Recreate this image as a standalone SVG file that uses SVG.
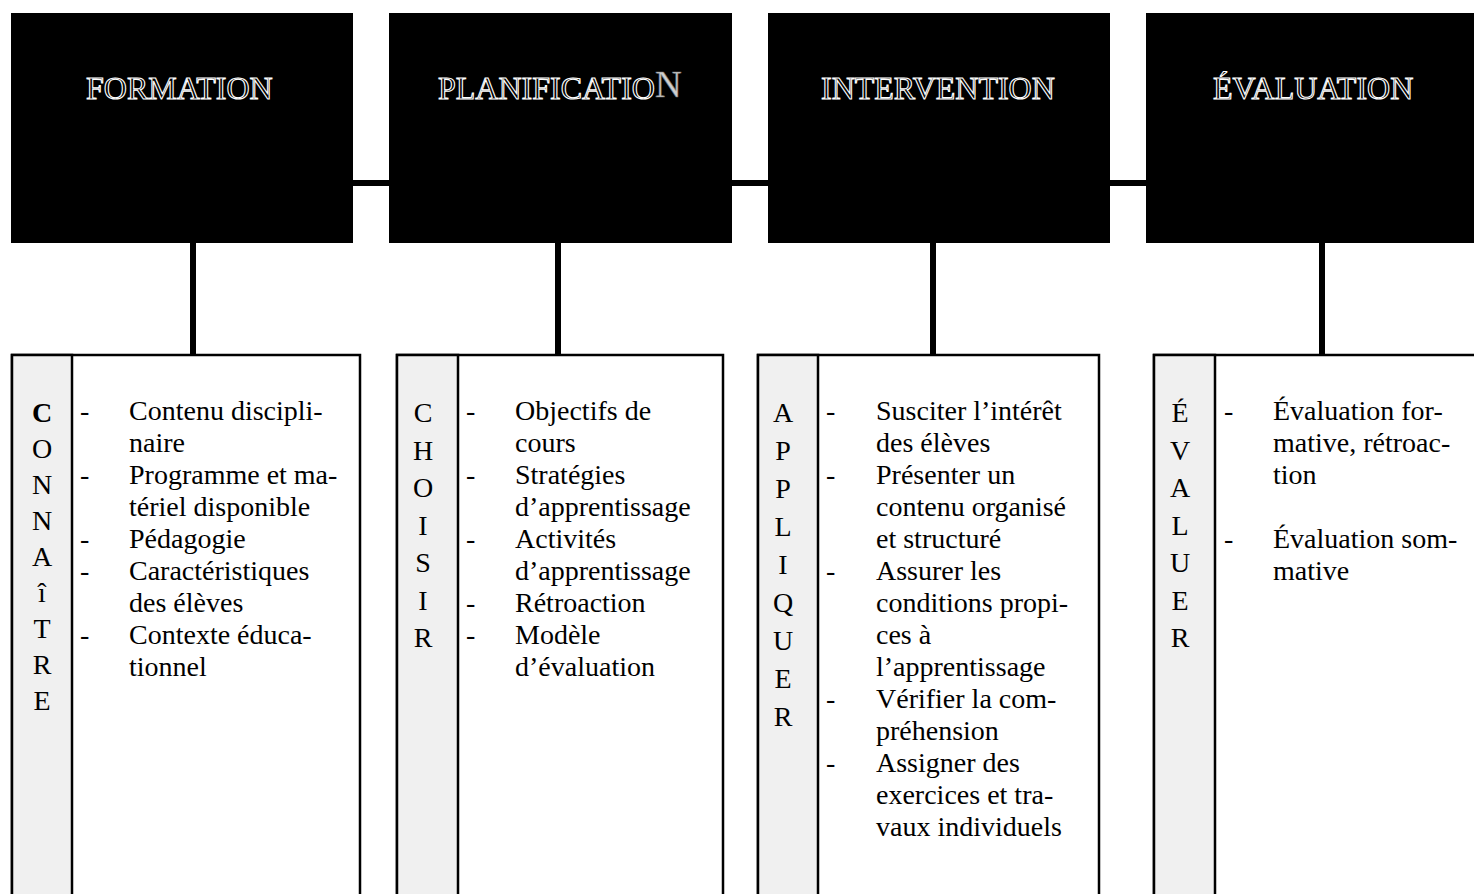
<svg xmlns="http://www.w3.org/2000/svg" width="1474" height="894" viewBox="0 0 1474 894">
<style>
.hdr{fill:#000}
.htxt{font-family:"Liberation Serif",serif;font-size:32px;fill:#000;stroke:#fff;stroke-width:1.1}
.panel{fill:#fff;stroke:#000;stroke-width:2.5}
.col{fill:#f0f0f0;stroke:#000;stroke-width:2.5}
.t{font-family:"Liberation Serif",serif;font-size:28px;fill:#000}
.v{font-family:"Liberation Serif",serif;font-size:28px;fill:#000;text-anchor:middle}
.conn{stroke:#000;stroke-width:6;fill:none}
</style>
<rect width="1474" height="894" fill="#fff"/>
<g id="connectors">
<line class="conn" x1="350" y1="183" x2="392" y2="183"/>
<line class="conn" x1="729" y1="183" x2="771" y2="183"/>
<line class="conn" x1="1107" y1="183" x2="1149" y2="183"/>
<line class="conn" x1="193" y1="240" x2="193" y2="356"/>
<line class="conn" x1="558" y1="240" x2="558" y2="356"/>
<line class="conn" x1="933" y1="240" x2="933" y2="356"/>
<line class="conn" x1="1322" y1="240" x2="1322" y2="356"/>
</g>
<g id="formation">
<rect class="hdr" x="11" y="13" width="342" height="230"/>
<text class="htxt" x="86" y="99">FORMATION</text>
</g>
<g id="planification">
<rect class="hdr" x="389" y="13" width="343" height="230"/>
<text class="htxt" x="438" y="99">PLANIFICATIO<tspan font-size="37" dy="-2" fill="#cfcfcf" stroke="#777" stroke-width="0.6">N</tspan></text>
</g>
<g id="intervention">
<rect class="hdr" x="768" y="13" width="342" height="230"/>
<text class="htxt" x="821" y="99">INTERVENTION</text>
</g>
<g id="evaluation">
<rect class="hdr" x="1146" y="13" width="340" height="230"/>
<text class="htxt" x="1213" y="99">ÉVALUATION</text>
</g>
<g id="connaitre">
<rect class="panel" x="12" y="355" width="348" height="600"/>
<rect class="col" x="12" y="355" width="60" height="600"/>
<text class="v" x="42"><tspan x="42" y="422" font-weight="bold">C</tspan><tspan x="42" y="458">O</tspan><tspan x="42" y="494">N</tspan><tspan x="42" y="530">N</tspan><tspan x="42" y="566">A</tspan><tspan x="42" y="602">î</tspan><tspan x="42" y="638">T</tspan><tspan x="42" y="674">R</tspan><tspan x="42" y="710">E</tspan></text>
<text class="t"><tspan x="80" y="420">-</tspan><tspan x="80" y="484">-</tspan><tspan x="80" y="548">-</tspan><tspan x="80" y="580">-</tspan><tspan x="80" y="644">-</tspan></text>
<text class="t"><tspan x="129" y="420">Contenu discipli-</tspan><tspan x="129" y="452">naire</tspan><tspan x="129" y="484">Programme et ma-</tspan><tspan x="129" y="516">tériel disponible</tspan><tspan x="129" y="548">Pédagogie</tspan><tspan x="129" y="580">Caractéristiques</tspan><tspan x="129" y="612">des élèves</tspan><tspan x="129" y="644">Contexte éduca-</tspan><tspan x="129" y="676">tionnel</tspan></text>
</g>
<g id="choisir">
<rect class="panel" x="397" y="355" width="326" height="600"/>
<rect class="col" x="397" y="355" width="61" height="600"/>
<text class="v"><tspan x="423" y="422">C</tspan><tspan x="423" y="459.5">H</tspan><tspan x="423" y="497">O</tspan><tspan x="423" y="534.5">I</tspan><tspan x="423" y="572">S</tspan><tspan x="423" y="609.5">I</tspan><tspan x="423" y="647">R</tspan></text>
<text class="t"><tspan x="466" y="420">-</tspan><tspan x="466" y="484">-</tspan><tspan x="466" y="548">-</tspan><tspan x="466" y="612">-</tspan><tspan x="466" y="644">-</tspan></text>
<text class="t"><tspan x="515" y="420">Objectifs de</tspan><tspan x="515" y="452">cours</tspan><tspan x="515" y="484">Stratégies</tspan><tspan x="515" y="516">d’apprentissage</tspan><tspan x="515" y="548">Activités</tspan><tspan x="515" y="580">d’apprentissage</tspan><tspan x="515" y="612">Rétroaction</tspan><tspan x="515" y="644">Modèle</tspan><tspan x="515" y="676">d’évaluation</tspan></text>
</g>
<g id="appliquer">
<rect class="panel" x="758" y="355" width="341" height="600"/>
<rect class="col" x="758" y="355" width="60" height="600"/>
<text class="v"><tspan x="783" y="422">A</tspan><tspan x="783" y="460">P</tspan><tspan x="783" y="498">P</tspan><tspan x="783" y="536">L</tspan><tspan x="783" y="574">I</tspan><tspan x="783" y="612">Q</tspan><tspan x="783" y="650">U</tspan><tspan x="783" y="688">E</tspan><tspan x="783" y="726">R</tspan></text>
<text class="t"><tspan x="826" y="420">-</tspan><tspan x="826" y="484">-</tspan><tspan x="826" y="580">-</tspan><tspan x="826" y="708">-</tspan><tspan x="826" y="772">-</tspan></text>
<text class="t"><tspan x="876" y="420">Susciter l’intérêt</tspan><tspan x="876" y="452">des élèves</tspan><tspan x="876" y="484">Présenter un</tspan><tspan x="876" y="516">contenu organisé</tspan><tspan x="876" y="548">et structuré</tspan><tspan x="876" y="580">Assurer les</tspan><tspan x="876" y="612">conditions propi-</tspan><tspan x="876" y="644">ces à</tspan><tspan x="876" y="676">l’apprentissage</tspan><tspan x="876" y="708">Vérifier la com-</tspan><tspan x="876" y="740">préhension</tspan><tspan x="876" y="772">Assigner des</tspan><tspan x="876" y="804">exercices et tra-</tspan><tspan x="876" y="836">vaux individuels</tspan></text>
</g>
<g id="evaluer">
<rect class="panel" x="1154" y="355" width="340" height="600"/>
<rect class="col" x="1154" y="355" width="61" height="600"/>
<text class="v"><tspan x="1180" y="422">É</tspan><tspan x="1180" y="459.5">V</tspan><tspan x="1180" y="497">A</tspan><tspan x="1180" y="534.5">L</tspan><tspan x="1180" y="572">U</tspan><tspan x="1180" y="609.5">E</tspan><tspan x="1180" y="647">R</tspan></text>
<text class="t"><tspan x="1224" y="420">-</tspan><tspan x="1224" y="548">-</tspan></text>
<text class="t"><tspan x="1273" y="420">Évaluation for-</tspan><tspan x="1273" y="452">mative, rétroac-</tspan><tspan x="1273" y="484">tion</tspan><tspan x="1273" y="548">Évaluation som-</tspan><tspan x="1273" y="580">mative</tspan></text>
</g>
</svg>
